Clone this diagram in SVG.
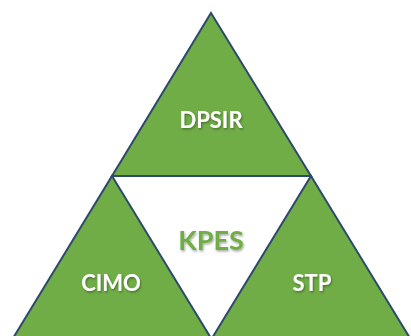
<svg xmlns="http://www.w3.org/2000/svg" width="411" height="336" viewBox="0 0 411 336">
<defs>
<style>
.tri{fill:#70AD47;stroke:#2E4A6B;stroke-width:2;stroke-linejoin:miter}
.lbl{font-family:Lato,"Open Sans","Liberation Sans",sans-serif;font-weight:bold;text-anchor:middle;fill:#FFFFFF;font-size:22px}
.mid{fill:#70AD47;font-size:27px}
</style>
<filter id="sh" x="-20%" y="-20%" width="140%" height="160%">
<feDropShadow dx="1" dy="1.5" stdDeviation="0.8" flood-color="#000" flood-opacity="0.35"/>
</filter>
</defs>
<rect width="411" height="336" fill="#FFFFFF"/>
<g id="dpsir">
<polygon class="tri" points="211,13 311,176 112,176"/>
<text class="lbl" x="211" y="128" filter="url(#sh)">DPSIR</text>
</g>
<g id="cimo">
<polygon class="tri" points="112,176 211.5,339 12.5,339"/>
<text class="lbl" x="111" y="291" filter="url(#sh)">CIMO</text>
</g>
<g id="stp">
<polygon class="tri" points="311,176 410.5,339 211.5,339"/>
<text class="lbl" x="312" y="291" filter="url(#sh)">STP</text>
</g>
<g id="kpes">
<text class="lbl mid" x="211" y="250" filter="url(#sh)">KPES</text>
</g>
<g id="connectors"></g>
</svg>
